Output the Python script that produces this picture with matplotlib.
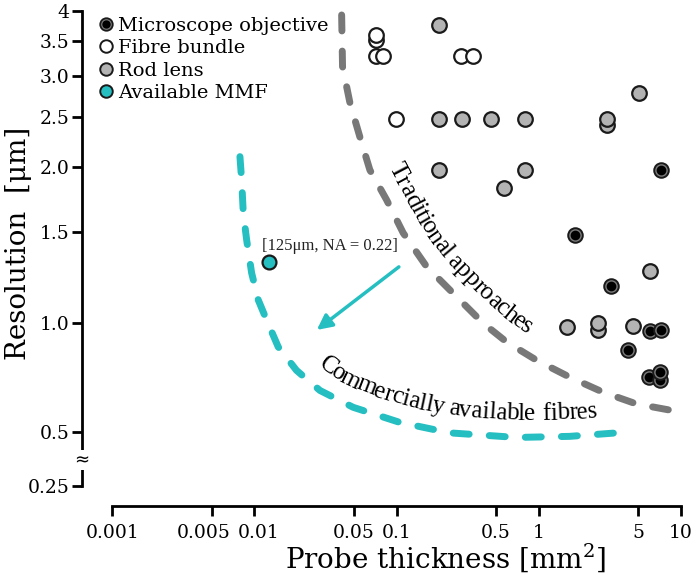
import numpy as np
import matplotlib
matplotlib.use("Agg")
import matplotlib.pyplot as plt
from matplotlib.lines import Line2D
from matplotlib.legend_handler import HandlerTuple
from matplotlib.transforms import IdentityTransform, ScaledTranslation
from matplotlib.font_manager import FontProperties

# probe thickness [mm^2] vs resolution [um]
scope_x = [7.2, 1.81, 3.2, 6.1, 7.2, 4.24, 6.0, 7.1, 7.1]
scope_y = [1.97, 1.48, 1.18, 0.964, 0.968, 0.875, 0.751, 0.738, 0.775]

bundle_x = [0.072, 0.072, 0.072, 0.0805, 0.286, 0.345, 0.099]
bundle_y = [3.52, 3.59, 3.27, 3.27, 3.27, 3.27, 2.48]

rod_x = [0.2, 5.04, 0.2, 0.29, 0.46, 0.8, 3.04, 3.04, 0.2, 0.8, 0.57, 6.1,
         1.58, 2.61, 2.61, 4.6]
rod_y = [3.76, 2.78, 2.48, 2.48, 2.48, 2.48, 2.41, 2.48, 1.97, 1.97, 1.82, 1.26,
         0.983, 0.968, 1.0, 0.986]

mmf_x = [0.0127]
mmf_y = [1.31]

# hand-drawn trend boundaries
trad_x = [0.0411, 0.0417, 0.047, 0.0552, 0.0649, 0.0851, 0.1113, 0.1625, 0.237,
          0.406, 0.593, 0.963, 1.65, 2.83, 4.86, 8.78]
trad_y = [3.93, 3.125, 2.66, 2.286, 1.974, 1.728, 1.492, 1.285, 1.158,
          0.999, 0.913, 0.829, 0.751, 0.682, 0.628, 0.597]

fibre_x = [0.00792, 0.00814, 0.00836, 0.00883, 0.00957, 0.01065, 0.0122, 0.01472,
           0.0198, 0.0289, 0.0495, 0.1055, 0.237, 0.697, 1.65, 3.89]
fibre_y = [2.094, 1.888, 1.631, 1.446, 1.249, 1.108, 1.013, 0.890,
           0.782, 0.690, 0.6125, 0.543, 0.495, 0.474, 0.479, 0.497]

arrow_from = (0.1038, 1.283)
arrow_to = (0.0275, 0.968)

x_ticks = [0.001, 0.005, 0.01, 0.05, 0.1, 0.5, 1, 5, 10]
x_labels = ["0.001", "0.005", "0.01", "0.05", "0.1", "0.5", "1", "5", "10"]
y_ticks = [0.25, 0.5, 1.0, 1.5, 2.0, 2.5, 3.0, 3.5, 4]
y_labels = ["0.25", "0.5", "1.0", "1.5", "2.0", "2.5", "3.0", "3.5", "4"]

CYAN = "#25bec1"
GREY_LINE = "#787878"
EDGE = "#1a1a1a"
K = 0.42  # linear squeeze below 1 um


def fwd(y):
    y = np.asarray(y, float)
    safe = np.where(y > 0, y, 1.0)
    return np.where(y >= 1, np.log10(safe), (y - 1) * K)


def inv(v):
    v = np.asarray(v, float)
    return np.where(v >= 0, 10 ** np.clip(v, -50, 50), 1 + v / K)


def text_on_curve(ax, xs, ys, s, anchor, offset, prop, color="black"):
    renderer = ax.figure.canvas.get_renderer()
    pts = ax.transData.transform(np.column_stack([xs, ys]))
    seg = np.hypot(*np.diff(pts, axis=0).T)
    cum = np.concatenate([[0], np.cumsum(seg)])
    a = ax.transData.transform([anchor])[0]
    fine = np.linspace(0, cum[-1], 3000)
    fx = np.interp(fine, cum, pts[:, 0])
    fy = np.interp(fine, cum, pts[:, 1])
    pos = fine[np.argmin(np.hypot(fx - a[0], fy - a[1]))]

    def at(d):
        return np.interp(d, cum, pts[:, 0]), np.interp(d, cum, pts[:, 1])

    for ch in s:
        w, h, d = renderer.get_text_width_height_descent(ch, prop, ismath=False)
        c = pos + w / 2
        half = 18
        x0, y0 = at(c - half)
        x1, y1 = at(c + half)
        th = np.arctan2(y1 - y0, x1 - x0)
        px, py = (x0 + x1) / 2, (y0 + y1) / 2
        nx, ny = -np.sin(th), np.cos(th)
        ax.figure.text(px + nx * offset, py + ny * offset, ch,
                       transform=IdentityTransform(), fontproperties=prop,
                       ha="center", va="baseline", rotation=np.degrees(th),
                       rotation_mode="anchor", color=color)
        pos += w


plt.rcParams["mathtext.fontset"] = "dejavuserif"
fig = plt.figure(figsize=(6.94, 5.79), dpi=100)
ax = fig.add_axes([82 / 694, 1 - 506 / 579, 599 / 694, 495 / 579])

ax.set_xscale("log")
ax.set_yscale("function", functions=(fwd, inv))
ax.set_xlim(0.000614, 10)
ax.set_ylim(0.159, 4)

# boundaries
ax.plot(trad_x, trad_y, color=GREY_LINE, lw=5, dashes=(2.3, 2.9),
        dash_capstyle="round", solid_capstyle="round", zorder=2)
ax.plot(fibre_x, fibre_y, color=CYAN, lw=5, dashes=(2.3, 2.9),
        dash_capstyle="round", solid_capstyle="round", zorder=2)

# data points
ax.plot(rod_x, rod_y, "o", ms=10.5, mfc="#b3b3b3", mec=EDGE, mew=1.6, ls="none",
        zorder=4, clip_on=False)
ax.plot(bundle_x, bundle_y, "o", ms=10.5, mfc="white", mec=EDGE, mew=1.6, ls="none",
        zorder=4, clip_on=False)
for sx, sy in zip(scope_x, scope_y):
    ax.plot([sx], [sy], "o", ms=10.5, mfc="#7a7a7a", mec=EDGE, mew=1.4, zorder=5,
            clip_on=False)
    ax.plot([sx], [sy], "o", ms=7, mfc="black", mec="black", mew=0, zorder=5,
            clip_on=False)
ax.plot(mmf_x, mmf_y, "o", ms=10, mfc=CYAN, mec=EDGE, mew=1.6, ls="none", zorder=5)

ax.annotate("", xy=arrow_to, xytext=arrow_from,
            arrowprops=dict(arrowstyle="-|>,head_length=0.9,head_width=0.45",
                            color=CYAN, lw=2.5, shrinkA=0, shrinkB=0), zorder=3)
ax.annotate("[125\u03bcm, NA = 0.22]", xy=(mmf_x[0], mmf_y[0]), xytext=(-5, 9),
            textcoords="offset points", fontsize=12, family="Liberation Serif",
            color="#222222")

# axes styling
for side in ("top", "right"):
    ax.spines[side].set_visible(False)
ax.spines["left"].set_bounds(0.25, 4)
ax.spines["bottom"].set_bounds(0.001, 10)
for side in ("left", "bottom"):
    ax.spines[side].set_linewidth(2)
ax.set_xticks(x_ticks)
ax.set_xticklabels(x_labels)
ax.set_yticks(y_ticks)
ax.set_yticklabels(y_labels)
ax.xaxis.set_minor_locator(matplotlib.ticker.NullLocator())
ax.yaxis.set_minor_locator(matplotlib.ticker.NullLocator())
ax.tick_params(direction="out", length=7, width=2, colors="black")
ax.tick_params(axis="x", pad=6)
ax.tick_params(axis="y", pad=2)
for lab in ax.get_xticklabels() + ax.get_yticklabels():
    lab.set_family("DejaVu Serif")
    lab.set_fontsize(13.5)

# nudge the crowded 0.005 / 0.01 labels apart
xt = ax.xaxis.get_major_ticks()
for i, dx in ((1, -8), (2, 4)):
    lab = xt[i].label1
    lab.set_transform(lab.get_transform() + ScaledTranslation(dx / 100, 0, fig.dpi_scale_trans))

# break mark on the y spine
ax.text(0, 0.37, "\u2248", transform=ax.get_yaxis_transform(), ha="center",
        va="center", fontsize=13, rotation=0,
        bbox=dict(boxstyle="square,pad=0.05", fc="white", ec="none"), zorder=6)

fig.text(445 / 694, 11 / 579, "Probe thickness [mm$^2$]", family="DejaVu Serif",
         fontsize=20, ha="center", va="baseline")
fig.text(19 / 694, 1 - 243 / 579, "Resolution  [\u03bcm]", family="DejaVu Serif",
         fontsize=20, ha="center", va="center", rotation=90)

# legend
h_scope = (Line2D([], [], ls="none", marker="o", ms=9, mfc="#7a7a7a", mec=EDGE, mew=1.3),
           Line2D([], [], ls="none", marker="o", ms=6, mfc="black", mec="black", mew=0))
h_bundle = Line2D([], [], ls="none", marker="o", ms=9, mfc="white", mec=EDGE, mew=1.4)
h_rod = Line2D([], [], ls="none", marker="o", ms=9, mfc="#b3b3b3", mec=EDGE, mew=1.4)
h_mmf = Line2D([], [], ls="none", marker="o", ms=9, mfc=CYAN, mec=EDGE, mew=1.4)
ax.legend([h_scope, h_bundle, h_rod, h_mmf],
          ["Microscope objective", "Fibre bundle", "Rod lens", "Available MMF"],
          handler_map={tuple: HandlerTuple(ndivide=1, pad=0)},
          loc="upper left", bbox_to_anchor=(100 / 694, 1 - 17 / 579),
          bbox_transform=fig.transFigure, frameon=False, borderpad=0,
          borderaxespad=0, handlelength=0.6, handletextpad=0.35,
          labelspacing=0.22, prop=FontProperties(family="DejaVu Serif", size=14))

# curved labels along the boundaries
label_font = FontProperties(family="Liberation Serif", size=18)
text_on_curve(ax, trad_x, trad_y, "Traditional approaches", (0.067, 1.93), 17,
              label_font)
text_on_curve(ax, fibre_x, fibre_y, "Commercially available fibres", (0.0238, 0.741),
              17, label_font)

fig.savefig("out.png", dpi=100)
